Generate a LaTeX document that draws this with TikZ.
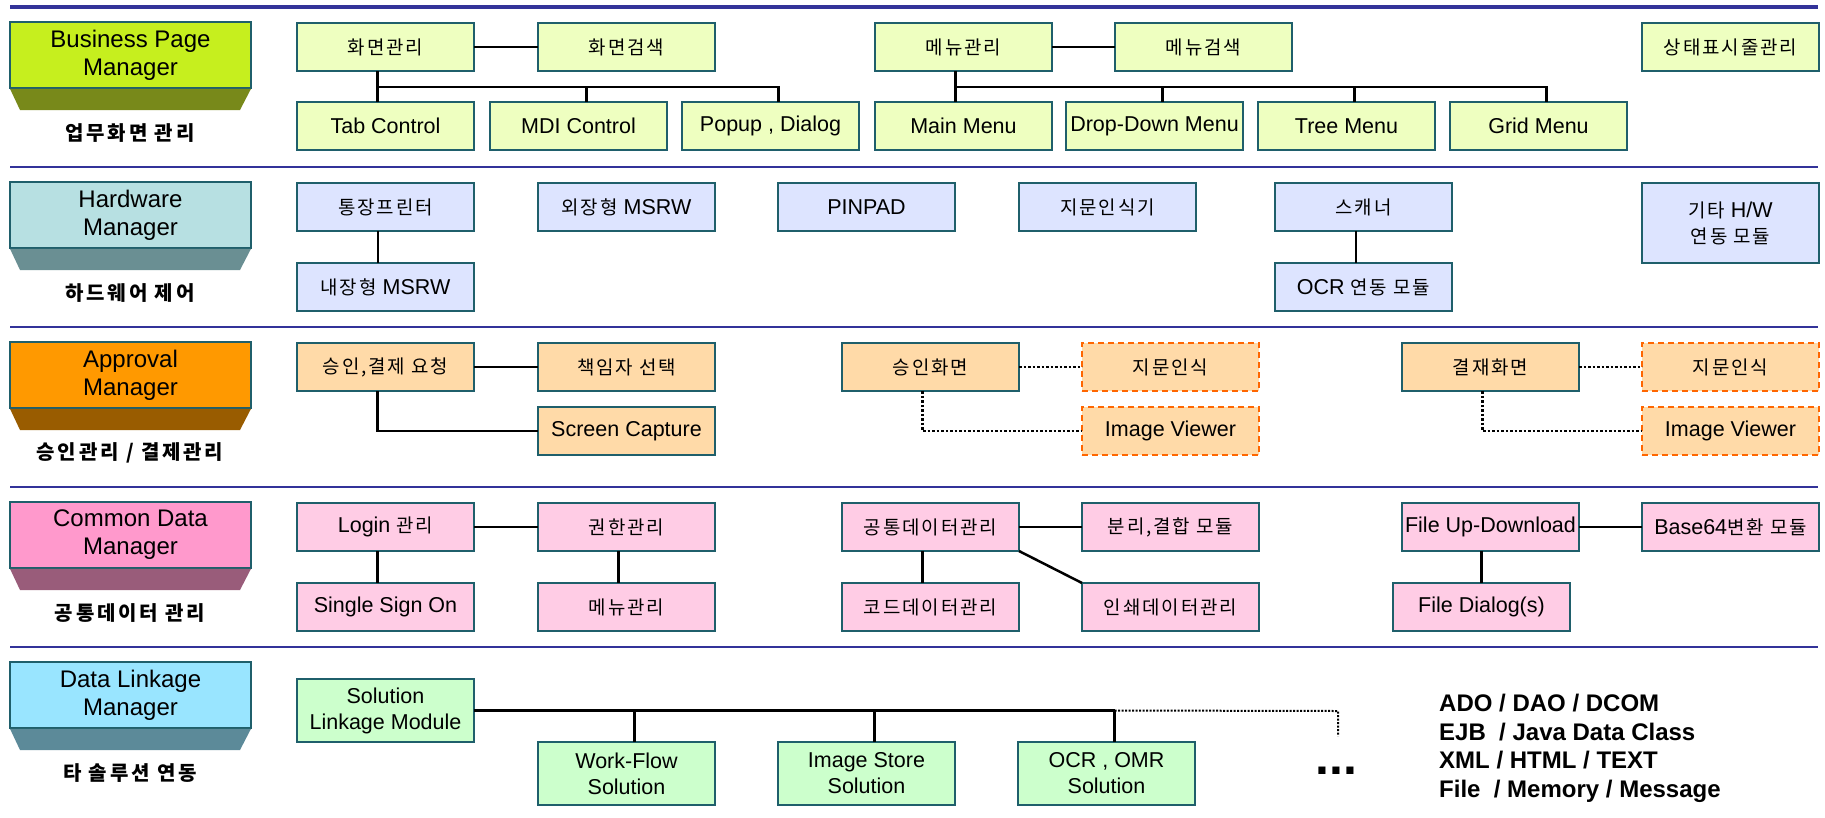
\documentclass[tikz,border=0pt]{standalone}
\usepackage{fontspec}
\setmainfont{Liberation Sans}
\newfontfamily\kr[Scale=0.88,LetterSpace=10]{Noto Sans CJK KR}
\newfontfamily\krl[LetterSpace=14]{Noto Sans CJK KR}
\definecolor{sepc}{HTML}{333399}
\definecolor{bordc}{HTML}{1F5F6B}
\definecolor{m1c}{HTML}{C6EF1E}\definecolor{b1c}{HTML}{78891A}
\definecolor{m2c}{HTML}{B7E0E2}\definecolor{b2c}{HTML}{6A8F93}
\definecolor{m3c}{HTML}{FF9900}\definecolor{b3c}{HTML}{995C00}
\definecolor{m4c}{HTML}{FF99CC}\definecolor{b4c}{HTML}{995C7A}
\definecolor{m5c}{HTML}{99E5FF}\definecolor{b5c}{HTML}{5C8A99}
\definecolor{f1c}{HTML}{EEFFC0}
\definecolor{f2c}{HTML}{DDE4FF}
\definecolor{f3c}{HTML}{FFDAA8}
\definecolor{f4c}{HTML}{FFCCE5}
\definecolor{f5c}{HTML}{CCFFCC}
\definecolor{dorange}{HTML}{FF6600}
\tikzset{
  box/.style={draw=bordc, line width=1.6pt, minimum width=177pt, minimum height=48pt,
    anchor=north west, inner sep=0pt, outer sep=0pt, align=center,
    font=\fontsize{21.5}{26}\selectfont},
  rowa/.style={box, fill=f1c},
  rowb/.style={box, fill=f2c},
  rowc/.style={box, fill=f3c},
  rowd/.style={box, fill=f4c},
  rowe/.style={box, fill=f5c, minimum height=63pt},
  dbox/.style={box, fill=f3c, draw=dorange, dash pattern=on 6pt off 4pt},
  mgr/.style={draw=bordc, line width=1.6pt, minimum width=241pt, minimum height=66pt,
    anchor=north west, inner sep=0pt, outer sep=0pt, align=center,
    font=\fontsize{24}{28}\selectfont},
  mlabel/.style={font=\krl\bfseries\fontsize{20}{24}\selectfont, inner sep=0pt},
  conn/.style={line width=2.5pt, black},
  thinconn/.style={line width=2pt, black},
  dotc/.style={line width=2.5pt, black, dash pattern=on 2.5pt off 2pt},
  sepline/.style={line width=2pt, sepc},
}
\newcommand{\manager}[6]{%
  \node[mgr, fill=#3] (#1) at (10,#2) {#5};
  \fill[#4] ([yshift=-0.8pt]#1.south west) -- ([yshift=-0.8pt]#1.south east)
     -- ([xshift=-11pt,yshift=-22pt]#1.south east) -- ([xshift=10pt,yshift=-22pt]#1.south west) -- cycle;
  \node[mlabel] (#1l) at (130,#2+111) {#6};
}
\begin{document}
\begin{tikzpicture}[x=1pt,y=-1pt]
\useasboundingbox (0,0) rectangle (1825,817);
% separators
\draw[line width=4.5pt, sepc] (10,7) -- (1818,7);
\draw[sepline] (10,167) -- (1818,167);
\draw[sepline] (10,327) -- (1818,327);
\draw[sepline] (10,487) -- (1818,487);
\draw[sepline] (10,647) -- (1818,647);
% managers
\manager{m1}{22}{m1c}{b1c}{Business Page\\Manager}{업무화면 관리}
\manager{m2}{182}{m2c}{b2c}{Hardware\\Manager}{하드웨어 제어}
\manager{m3}{342}{m3c}{b3c}{Approval\\Manager}{승인관리 / 결제관리}
\manager{m4}{502}{m4c}{b4c}{Common Data\\Manager}{공통데이터 관리}
\manager{m5}{662}{m5c}{b5c}{Data Linkage\\Manager}{타 솔루션 연동}
% row 1
\node[rowa] (a1) at (297,23) {\kr 화면관리};
\node[rowa] (a2) at (538,23) {\kr 화면검색};
\node[rowa] (a3) at (875,23) {\kr 메뉴관리};
\node[rowa] (a4) at (1115,23) {\kr 메뉴검색};
\node[rowa] (a5) at (1642,23) {\kr 상태표시줄관리};
\node[rowa] (b1) at (297,102) {Tab Control};
\node[rowa] (b2) at (490,102) {MDI Control};
\node[rowa] (b3) at (682,102) {Popup , Dialog};
\node[rowa] (b4) at (875,102) {Main Menu};
\node[rowa] (b5) at (1066,102) {Drop-Down Menu};
\node[rowa] (b6) at (1258,102) {Tree Menu};
\node[rowa] (b7) at (1450,102) {Grid Menu};
\draw[conn] (a1.east) -- (a2.west);
\draw[conn] (a3.east) -- (a4.west);
\draw[conn] ([xshift=-8pt]a1.south) -- ([xshift=-8pt]b1.north);
\draw[conn] ([xshift=-8pt,yshift=15pt]b1.north) -| ([xshift=8pt]b3.north);
\draw[conn] ([xshift=8pt]b2.north) -- ([xshift=8pt,yshift=15pt]b2.north);
\draw[conn] ([xshift=-8pt]a3.south) -- ([xshift=-8pt]b4.north);
\draw[conn] ([xshift=-8pt,yshift=15pt]b4.north) -| ([xshift=8pt]b7.north);
\draw[conn] ([xshift=8pt]b5.north) -- ([xshift=8pt,yshift=15pt]b5.north);
\draw[conn] ([xshift=8pt]b6.north) -- ([xshift=8pt,yshift=15pt]b6.north);
% row 2
\node[rowb] (e1) at (297,183) {\kr 통장프린터};
\node[rowb] (e2) at (538,183) {{\kr 외장형} MSRW};
\node[rowb] (e3) at (778,183) {PINPAD};
\node[rowb] (e4) at (1019,183) {\kr 지문인식기};
\node[rowb] (e5) at (1275,183) {\kr 스캐너};
\node[rowb, minimum height=80pt] (e6) at (1642,183) {{\kr 기타} H/W\\{\kr 연동 모듈}};
\node[rowb] (f1) at (297,263) {{\kr 내장형} MSRW};
\node[rowb] (f5) at (1275,263) {OCR {\kr 연동 모듈}};
\draw[thinconn] ([xshift=-8pt]e1.south) -- ([xshift=-8pt]f1.north);
\draw[thinconn] ([xshift=-8pt]e5.south) -- ([xshift=-8pt]f5.north);
% row 3
\node[rowc] (g1) at (297,343) {\kr 승인,결제 요청};
\node[rowc] (g2) at (538,343) {\kr 책임자 선택};
\node[rowc] (g3) at (538,407) {Screen Capture};
\node[rowc] (g4) at (842,343) {\kr 승인화면};
\node[dbox] (g5) at (1082,343) {\kr 지문인식};
\node[dbox] (g6) at (1082,407) {Image Viewer};
\node[rowc] (g7) at (1402,343) {\kr 결재화면};
\node[dbox] (g8) at (1642,343) {\kr 지문인식};
\node[dbox] (g9) at (1642,407) {Image Viewer};
\draw[conn] (g1.east) -- (g2.west);
\draw[conn] ([xshift=-8pt]g1.south) |- (g3.west);
\draw[dotc] (g4.east) -- (g5.west);
\draw[dotc] ([xshift=-8pt]g4.south) |- (g6.west);
\draw[dotc] (g7.east) -- (g8.west);
\draw[dotc] ([xshift=-8pt]g7.south) |- (g9.west);
% row 4
\node[rowd] (c1) at (297,503) {Login {\kr 관리}};
\node[rowd] (c2) at (538,503) {\kr 권한관리};
\node[rowd] (c3) at (842,503) {\kr 공통데이터관리};
\node[rowd] (c4) at (1082,503) {\kr 분리,결합 모듈};
\node[rowd] (c5) at (1402,503) {File Up-Download};
\node[rowd] (c6) at (1642,503) {Base64{\kr 변환 모듈}};
\node[rowd] (d1) at (297,583) {Single Sign On};
\node[rowd] (d2) at (538,583) {\kr 메뉴관리};
\node[rowd] (d3) at (842,583) {\kr 코드데이터관리};
\node[rowd] (d4) at (1082,583) {\kr 인쇄데이터관리};
\node[rowd] (d5) at (1393,583) {File Dialog(s)};
\draw[conn] (c1.east) -- (c2.west);
\draw[conn] ([xshift=-8pt]c1.south) -- ([xshift=-8pt]d1.north);
\draw[conn] ([xshift=-8pt]c2.south) -- ([xshift=-8pt]d2.north);
\draw[conn] (c3.east) -- (c4.west);
\draw[conn] ([xshift=-8pt]c3.south) -- ([xshift=-8pt]d3.north);
\draw[conn] (c3.south east) -- (d4.north west);
\draw[conn] (c5.east) -- (c6.west);
\draw[conn] (d5.north) -- (d5.north |- c5.south);
% row 5
\node[rowe] (h1) at (297,679) {Solution\\Linkage Module};
\node[rowe] (h2) at (538,742) {Work-Flow\\Solution};
\node[rowe] (h3) at (778,742) {Image Store\\Solution};
\node[rowe] (h4) at (1018,742) {OCR , OMR\\Solution};
\coordinate (busend) at ([xshift=8pt]h4.north |- h1.east);
\coordinate (dcorner) at (1338,711);
\coordinate (dbottom) at (1338,736);
\draw[conn] (h1.east) -- (busend);
\draw[conn] ([xshift=8pt]h2.north) -- ([xshift=8pt]h2.north |- h1.east);
\draw[conn] ([xshift=8pt]h3.north) -- ([xshift=8pt]h3.north |- h1.east);
\draw[conn] ([xshift=8pt]h4.north) -- (busend);
\draw[line width=2pt, dash pattern=on 2pt off 1.5pt] (busend) -- (dcorner) -- (dbottom);
\node[anchor=base west, inner sep=0pt, font=\bfseries\fontsize{50}{50}\selectfont] (dots) at (1315,774) {...};
\node[anchor=north west, inner sep=0pt, align=left, font=\bfseries\fontsize{24}{28.5}\selectfont] (tech) at (1439,694)
  {ADO / DAO / DCOM\\EJB\ \ / Java Data Class\\XML / HTML / TEXT\\File\ \ / Memory / Message};
\end{tikzpicture}
\end{document}
